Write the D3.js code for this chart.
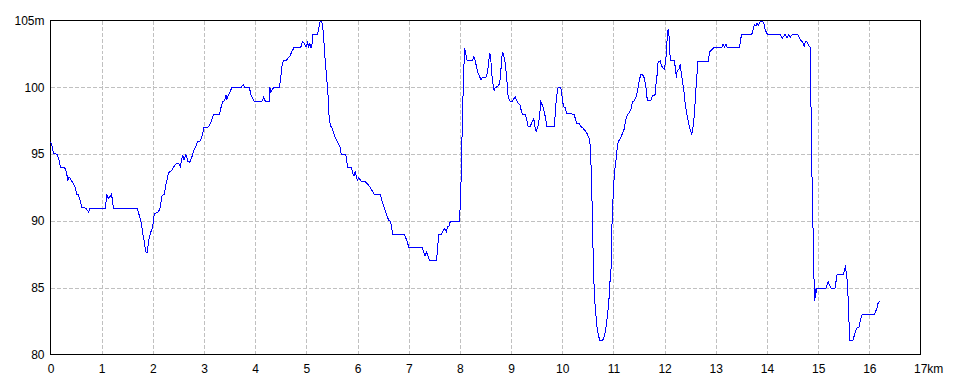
<!DOCTYPE html>
<html>
<head>
<meta charset="utf-8">
<script src="https://cdn.jsdelivr.net/npm/d3@7"></script>
<style>
  body { margin: 0; background: #fff; }
  svg text { font-family: "Liberation Sans", Arial, sans-serif; font-size: 12px; fill: #000; }
</style>
</head>
<body>
<svg id="chart" width="960" height="384"></svg>
<script>
// distance along the route (km)
var dist = [
  0.000,0.020,0.059,0.130,0.163,0.196,0.274,0.306,0.339,0.365,0.404,0.450,0.482,0.515,0.548,0.580,0.613,0.691,0.743,0.769,
  1.069,1.102,1.134,1.173,1.193,1.232,1.695,1.734,1.773,1.806,1.838,1.858,1.890,1.923,1.956,1.995,2.027,2.067,2.106,2.138,
  2.177,2.223,2.256,2.308,2.360,2.392,2.438,2.503,2.536,2.568,2.581,2.608,2.647,2.686,2.718,2.764,2.797,2.842,2.875,2.927,
  2.960,2.999,3.090,3.136,3.188,3.305,3.338,3.370,3.403,3.429,3.448,3.481,3.546,3.729,3.768,3.794,3.885,3.924,3.977,4.133,
  4.166,4.198,4.276,4.288,4.307,4.333,4.366,4.471,4.497,4.523,4.549,4.614,4.641,4.680,4.712,4.758,4.889,4.922,4.961,4.993,
  5.020,5.046,5.065,5.085,5.105,5.124,5.216,5.242,5.261,5.288,5.314,5.333,5.366,5.399,5.431,5.444,5.471,5.510,5.529,5.562,
  5.595,5.627,5.660,5.680,5.771,5.797,5.810,5.876,5.908,5.928,5.954,5.980,6.000,6.026,6.065,6.150,6.183,6.248,6.281,6.327,
  6.444,6.477,6.523,6.562,6.608,6.647,6.686,6.915,6.948,6.974,7.007,7.268,7.294,7.320,7.346,7.373,7.412,7.542,7.562,7.588,
  7.641,7.667,7.706,7.732,7.758,7.784,7.810,7.850,7.987,8.013,8.026,8.046,8.065,8.092,8.105,8.124,8.144,8.242,8.275,8.307,
  8.327,8.353,8.386,8.412,8.438,8.471,8.505,8.537,8.557,8.583,8.602,8.622,8.648,8.668,8.687,8.733,8.765,8.791,8.811,8.831,
  8.857,8.883,8.909,8.928,8.941,8.974,9.013,9.046,9.078,9.104,9.137,9.176,9.196,9.222,9.280,9.306,9.332,9.371,9.398,9.424,
  9.443,9.463,9.489,9.515,9.534,9.554,9.580,9.613,9.645,9.678,9.697,9.841,9.860,9.886,9.919,9.971,10.004,10.023,10.056,10.088,
  10.232,10.258,10.284,10.329,10.362,10.408,10.460,10.492,10.538,10.557,10.577,10.590,10.610,10.629,10.655,10.675,10.707,10.740,10.786,10.818,
  10.851,10.883,10.909,10.929,10.955,10.968,10.994,11.020,11.059,11.079,11.111,11.157,11.209,11.242,11.274,11.307,11.340,11.372,11.405,11.437,
  11.470,11.502,11.535,11.568,11.600,11.633,11.652,11.665,11.731,11.763,11.796,11.815,11.828,11.848,11.874,11.913,11.939,11.959,11.991,12.011,
  12.037,12.050,12.069,12.089,12.102,12.115,12.193,12.219,12.232,12.245,12.278,12.304,12.324,12.350,12.376,12.402,12.428,12.454,12.480,12.506,
  12.532,12.558,12.584,12.604,12.623,12.649,12.708,12.857,12.876,12.909,12.941,12.967,13.117,13.143,13.169,13.196,13.222,13.280,13.463,13.489,
  13.508,13.704,13.730,13.756,13.782,13.808,13.834,13.860,13.893,13.919,13.945,13.958,13.984,14.010,14.258,14.277,14.303,14.329,14.355,14.375,
  14.401,14.427,14.453,14.479,14.518,14.597,14.623,14.649,14.675,14.701,14.727,14.747,14.766,14.792,14.818,14.844,14.857,14.883,14.909,14.922,
  14.935,14.949,14.962,14.975,15.151,15.170,15.196,15.216,15.235,15.261,15.327,15.346,15.372,15.496,15.522,15.535,15.548,15.568,15.587,15.607,
  15.620,15.678,15.704,15.730,15.757,15.796,15.822,15.848,15.874,16.102,16.128,16.148,16.174,16.213
];

// elevation (m)
var elev = [
  95.91,95.79,95.04,94.99,94.61,93.99,93.99,93.74,93.07,93.27,93.07,92.74,92.49,92.00,91.95,91.50,91.00,90.95,90.67,90.92,
  90.92,91.95,91.67,91.87,92.00,90.92,90.92,90.42,89.88,89.00,88.38,87.68,87.63,88.63,89.13,89.50,90.50,90.62,90.67,90.92,
  91.87,92.00,92.74,93.62,93.74,93.94,94.24,94.31,94.06,94.66,94.96,94.56,94.96,94.46,94.36,94.81,95.24,95.61,95.91,95.99,
  96.36,96.98,97.03,97.41,97.96,97.98,98.60,98.95,98.98,99.43,99.10,99.45,99.98,100.02,100.20,100.02,99.98,99.35,98.95,98.95,
  99.28,98.95,98.95,100.00,99.60,99.85,99.98,99.98,100.65,101.60,101.97,102.02,102.22,102.34,102.64,102.97,102.97,103.42,103.29,103.04,
  103.34,103.04,103.34,102.97,102.97,103.97,103.97,104.35,104.89,104.94,104.72,103.97,102.09,100.60,98.98,97.73,97.11,96.93,96.61,96.23,
  95.99,95.74,95.49,94.99,94.99,94.24,93.99,93.99,93.57,93.37,93.67,93.24,93.07,93.24,92.99,92.94,92.82,92.49,92.29,92.00,
  92.00,91.50,91.00,90.50,90.05,89.95,89.00,88.95,88.68,88.38,87.98,87.98,87.63,87.38,87.68,87.38,87.01,87.01,87.88,88.98,
  89.00,89.25,89.45,89.18,89.58,89.55,89.93,89.98,89.98,91.37,93.74,97.11,100.10,102.97,102.64,102.34,101.97,102.02,102.29,101.85,
  101.47,101.10,100.80,100.55,100.72,100.72,100.70,101.10,101.72,102.59,102.22,100.97,100.22,99.73,99.98,100.05,100.22,100.72,101.85,102.64,
  102.39,101.85,100.97,99.98,99.35,98.98,98.90,99.10,99.30,99.05,98.80,98.68,98.30,97.98,97.93,97.61,97.06,97.03,97.31,97.48,
  97.66,97.11,96.66,96.98,97.23,97.73,98.90,98.65,98.23,97.61,97.03,97.03,97.86,99.23,99.98,99.98,99.10,98.55,98.48,98.05,
  97.98,97.61,97.31,97.28,97.06,96.93,96.68,96.48,96.06,94.74,92.37,89.63,86.51,84.26,83.14,82.14,81.40,81.02,81.02,81.35,
  81.90,82.89,83.89,85.26,86.51,89.38,91.87,93.62,94.86,95.74,96.03,96.36,96.86,97.61,97.93,98.10,98.35,98.90,98.98,99.23,
  99.73,100.47,100.97,100.95,100.72,100.10,99.35,98.98,98.98,99.40,99.35,99.48,100.10,100.72,101.92,101.97,101.65,101.47,101.35,101.72,
  102.59,103.72,104.34,103.72,102.59,101.97,101.97,101.10,100.72,101.22,101.35,101.72,101.10,100.47,99.73,98.80,98.10,97.61,97.11,96.73,
  96.48,97.11,98.10,99.35,100.47,101.92,101.92,101.92,102.64,102.77,102.89,102.97,102.97,103.24,103.02,103.24,103.02,102.97,102.97,103.67,
  103.97,103.97,104.34,104.71,104.59,104.79,104.64,104.89,104.94,104.94,104.71,104.39,104.16,103.97,103.97,103.79,103.67,103.84,103.97,103.79,
  103.72,103.97,103.72,103.89,103.97,103.97,103.79,103.59,103.47,103.34,103.09,103.34,103.47,103.34,103.14,102.97,99.48,92.49,87.76,85.14,
  84.01,84.89,84.64,84.94,84.94,85.19,85.46,85.26,85.09,84.94,84.94,85.39,86.01,86.01,86.38,86.68,86.08,85.51,84.14,82.02,
  81.02,81.02,81.40,81.77,81.97,82.02,82.52,82.89,83.02,83.02,83.27,83.47,83.89,83.97
];

var kmTicks = d3.range(0, 18);
var elevTicks = [80, 85, 90, 95, 100, 105];

var x = d3.scaleLinear().domain([0, 17]).range([50.5, 920.5]);
var y = d3.scaleLinear().domain([80, 105]).range([354.5, 20.5]);

var svg = d3.select("#chart");

// grid
svg.append("g")
  .selectAll("line")
  .data(kmTicks.slice(1, -1))
  .enter().append("line")
  .attr("x1", d => Math.round(x(d)) + 0.5)
  .attr("x2", d => Math.round(x(d)) + 0.5)
  .attr("y1", y(105))
  .attr("y2", y(80))
  .attr("stroke", "#c0c0c0")
  .attr("stroke-dasharray", "4,2")
  .attr("shape-rendering", "crispEdges");

svg.append("g")
  .selectAll("line")
  .data(elevTicks.slice(1, -1))
  .enter().append("line")
  .attr("x1", x(0))
  .attr("x2", x(17))
  .attr("y1", d => Math.round(y(d)) + 0.5)
  .attr("y2", d => Math.round(y(d)) + 0.5)
  .attr("stroke", "#c0c0c0")
  .attr("stroke-dasharray", "4,2")
  .attr("shape-rendering", "crispEdges");

// frame
svg.append("rect")
  .attr("x", x(0))
  .attr("y", y(105))
  .attr("width", x(17) - x(0))
  .attr("height", y(80) - y(105))
  .attr("fill", "none")
  .attr("stroke", "#000")
  .attr("shape-rendering", "crispEdges");

// axis labels
var xAxis = d3.axisBottom(x)
  .tickValues(kmTicks)
  .tickSize(0)
  .tickPadding(10)
  .tickFormat(d => d === 17 ? "17km" : d);

svg.append("g")
  .attr("transform", "translate(0," + y(80) + ")")
  .call(xAxis)
  .call(g => g.select(".domain").remove())
  .call(g => g.selectAll("text").style("font-family", "Liberation Sans, Arial, sans-serif").style("font-size", "12px"))
  .call(g => g.selectAll(".tick").filter(d => d === 17).select("text").attr("text-anchor", "start").attr("dx", "-7"));

var yAxis = d3.axisLeft(y)
  .tickValues(elevTicks)
  .tickSize(0)
  .tickPadding(6)
  .tickFormat(d => d === 105 ? "105m" : d);

svg.append("g")
  .attr("transform", "translate(" + x(0) + ",0)")
  .call(yAxis)
  .call(g => g.select(".domain").remove())
  .call(g => g.selectAll("text").style("font-family", "Liberation Sans, Arial, sans-serif").style("font-size", "12px"));

// elevation profile
var points = dist.map((d, i) => [d, elev[i]]);

var line = d3.line()
  .x(d => x(d[0]))
  .y(d => y(d[1]));

svg.append("path")
  .datum(points)
  .attr("d", line)
  .attr("fill", "none")
  .attr("stroke", "#0000ff")
  .attr("stroke-width", 1)
  .attr("shape-rendering", "crispEdges");
</script>
</body>
</html>
